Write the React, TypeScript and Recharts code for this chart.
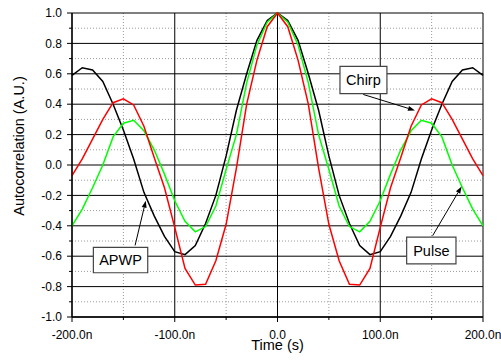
import React from 'react';
import {
  LineChart, Line, XAxis, YAxis, CartesianGrid, ReferenceLine, ReferenceArea,
} from 'recharts';

const FONT = '"Liberation Sans", Arial, Helvetica, sans-serif';

const times = [-200, -190, -180, -170, -160, -150, -140, -130, -120, -110, -100, -90, -80, -70, -60, -50, -40, -30, -20, -10, 0,
  10, 20, 30, 40, 50, 60, 70, 80, 90, 100, 110, 120, 130, 140, 150, 160, 170, 180, 190, 200];

const apwp = [0.59, 0.64, 0.625, 0.55, 0.40, 0.23, 0.04, -0.18, -0.335, -0.47, -0.57, -0.59, -0.53, -0.385, -0.20, 0.06, 0.36, 0.60, 0.82, 0.95, 1.0,
  0.95, 0.82, 0.60, 0.36, 0.06, -0.20, -0.385, -0.53, -0.59, -0.57, -0.47, -0.335, -0.18, 0.04, 0.23, 0.40, 0.55, 0.625, 0.64, 0.59];

const chirp = [-0.07, 0.04, 0.17, 0.30, 0.41, 0.435, 0.395, 0.255, 0.05, -0.15, -0.41, -0.68, -0.79, -0.785, -0.63, -0.39, -0.02, 0.40, 0.69, 0.91, 1.0,
  0.91, 0.69, 0.40, -0.02, -0.39, -0.63, -0.785, -0.79, -0.68, -0.41, -0.15, 0.05, 0.255, 0.395, 0.435, 0.41, 0.30, 0.17, 0.04, -0.07];

const pulse = [-0.40, -0.29, -0.15, 0.0, 0.185, 0.275, 0.294, 0.225, 0.10, -0.06, -0.235, -0.37, -0.44, -0.405, -0.27, -0.03, 0.20, 0.54, 0.79, 0.94, 1.0,
  0.94, 0.79, 0.54, 0.20, -0.03, -0.27, -0.405, -0.44, -0.37, -0.235, -0.06, 0.10, 0.225, 0.294, 0.275, 0.185, 0.0, -0.15, -0.29, -0.40];

const majorX = [-200, -100, 0, 100, 200];
const minorX = [-150, -50, 50, 150];
const allX = [-200, -150, -100, -50, 0, 50, 100, 150, 200];
const majorY = [-1, -0.8, -0.6, -0.4, -0.2, 0, 0.2, 0.4, 0.6, 0.8, 1];
const minorY = [-0.9, -0.7, -0.5, -0.3, -0.1, 0.1, 0.3, 0.5, 0.7, 0.9];
const allY = [-1, -0.9, -0.8, -0.7, -0.6, -0.5, -0.4, -0.3, -0.2, -0.1, 0, 0.1, 0.2, 0.3, 0.4, 0.5, 0.6, 0.7, 0.8, 0.9, 1];

// annotation boxes (data coords) and arrows (from box to target)
const boxes = [
  { label: 'Chirp', x1: 60.8, x2: 106.5, y1: 0.469, y2: 0.649 },
  { label: 'APWP', x1: -179.2, x2: -126.3, y1: -0.709, y2: -0.542 },
  { label: 'Pulse', x1: 125.7, x2: 173.7, y1: -0.651, y2: -0.474 },
];
const arrows = [
  { from: { x: 83.5, y: 0.464 }, to: { x: 133.8, y: 0.359 } },
  { from: { x: -138.6, y: -0.529 }, to: { x: -128.2, y: -0.235 } },
  { from: { x: 151, y: -0.465 }, to: { x: 179.2, y: -0.141 } },
];

const data = times.map((t, i) => ({ t, apwp: apwp[i], chirp: chirp[i], pulse: pulse[i] }));

const X_MARGIN = 13;
const Y_MARGIN = 10;

const XTick = (props: any) => {
  const { x, y, payload } = props;
  const v = payload.value;
  const major = majorX.includes(v);
  const ay = y - X_MARGIN;
  const label = v === 0 ? '0.0' : `${v.toFixed(1)}n`;
  return (
    <g>
      <line x1={x} y1={ay} x2={x} y2={ay + (major ? 5 : 3)} stroke="#000" strokeWidth={1} />
      {major && (
        <text x={x} y={y} dy="0.71em" textAnchor="middle" fontSize={12} fontFamily={FONT} fill="#000">{label}</text>
      )}
    </g>
  );
};

const YTick = (props: any) => {
  const { x, y, payload } = props;
  const v = payload.value;
  const major = Math.round(v * 10) % 2 === 0;
  const ax = x + Y_MARGIN;
  return (
    <g>
      <line x1={ax} y1={y} x2={ax - (major ? 5 : 3)} y2={y} stroke="#000" strokeWidth={1} />
      {major && (
        <text x={x} y={y} dy="0.355em" textAnchor="end" fontSize={12} fontFamily={FONT} fill="#000">{v.toFixed(1)}</text>
      )}
    </g>
  );
};

const Arrow = (props: any) => {
  const { x1, y1, x2, y2 } = props;
  const dx = x2 - x1;
  const dy = y2 - y1;
  const len = Math.sqrt(dx * dx + dy * dy) || 1;
  const ux = dx / len;
  const uy = dy / len;
  const hl = 7;
  const hw = 2.5;
  const bx = x2 - ux * hl;
  const by = y2 - uy * hl;
  const pts = `${x2},${y2} ${bx - uy * hw},${by + ux * hw} ${bx + uy * hw},${by - ux * hw}`;
  return (
    <g>
      <line x1={x1} y1={y1} x2={bx} y2={by} stroke="#000" strokeWidth={1} />
      <polygon points={pts} fill="#000" />
    </g>
  );
};

export default function App() {
  return (
    <div style={{ position: 'absolute', left: 0, top: 0, width: 501, height: 364, background: '#fff' }}>
      <LineChart
        width={501}
        height={364}
        data={data}
        margin={{ top: 13, right: 18, left: 0, bottom: 0 }}
        style={{ fontFamily: FONT }}
      >
        <CartesianGrid
          horizontalValues={minorY}
          verticalValues={minorX}
          stroke="#9a9a9a"
          strokeDasharray="1 2"
          syncWithTicks={false}
        />
        <CartesianGrid
          horizontalValues={majorY}
          verticalValues={majorX}
          stroke="#000"
          strokeWidth={1}
          syncWithTicks={false}
        />
        <XAxis
          dataKey="t"
          type="number"
          domain={[-200, 200]}
          ticks={allX}
          interval={0}
          height={47}
          tickSize={0}
          tickMargin={X_MARGIN}
          tickLine={false}
          axisLine={{ stroke: '#000', strokeWidth: 1.3 }}
          tick={<XTick />}
        />
        <YAxis
          type="number"
          domain={[-1, 1]}
          ticks={allY}
          interval={0}
          width={72}
          tickSize={0}
          tickMargin={Y_MARGIN}
          tickLine={false}
          axisLine={{ stroke: '#000', strokeWidth: 1.3 }}
          tick={<YTick />}
        />
        <Line type="linear" dataKey="apwp" stroke="#000000" strokeWidth={1.5} dot={false} isAnimationActive={false} />
        <Line type="linear" dataKey="pulse" stroke="#00ff00" strokeWidth={1.5} dot={false} isAnimationActive={false} />
        <Line type="linear" dataKey="chirp" stroke="#ff0000" strokeWidth={1.5} dot={false} isAnimationActive={false} />
        {boxes.map((b) => (
          <ReferenceArea
            key={b.label}
            x1={b.x1}
            x2={b.x2}
            y1={b.y1}
            y2={b.y2}
            fill="#fff"
            fillOpacity={1}
            stroke="#444"
            strokeWidth={1.2}
            label={{ value: b.label, position: 'center', fontSize: 14.5, fill: '#000', fontFamily: FONT }}
          />
        ))}
        {arrows.map((a, i) => (
          <ReferenceLine key={i} segment={[a.from, a.to]} shape={Arrow} ifOverflow="visible" />
        ))}
        <text x={277.5} y={349.7} textAnchor="middle" fontSize={14.5} fontFamily={FONT} fill="#000">Time (s)</text>
        <text transform="translate(24,146) rotate(-90)" textAnchor="middle" fontSize={14.5} fontFamily={FONT} fill="#000">Autocorrelation (A.U.)</text>
      </LineChart>
    </div>
  );
}
